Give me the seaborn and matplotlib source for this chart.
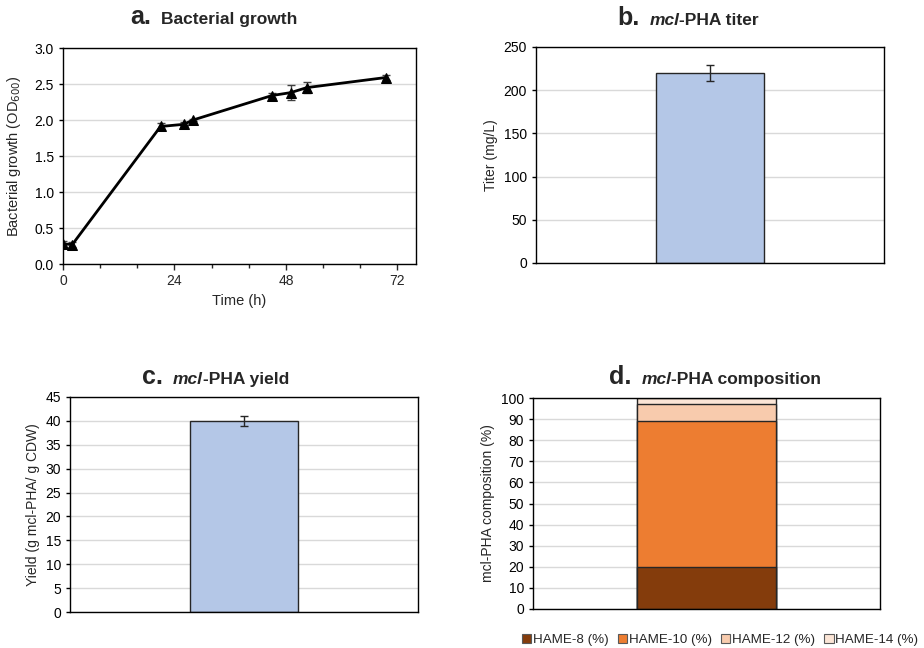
import numpy as np
import pandas as pd
import matplotlib
matplotlib.use('Agg')
import matplotlib.pyplot as plt
import seaborn as sns
from matplotlib.patches import Patch
from matplotlib.ticker import MultipleLocator, FormatStrFormatter

# panel a: growth curve
time_h = [0, 2, 21, 26, 28, 45, 49, 52.5, 69.5]
od600 = [0.28, 0.27, 1.91, 1.94, 2.00, 2.34, 2.38, 2.45, 2.59]
od600_err = [0.04, 0.03, 0.05, 0.03, 0.02, 0.03, 0.10, 0.08, 0.03]

# panel b / c: single bars
titer = [220]
titer_err = [9.5]
yield_val = [40]
yield_err = [1.0]

# panel d: composition (%)
hame_labels = ['HAME-8 (%)', 'HAME-10 (%)', 'HAME-12 (%)', 'HAME-14 (%)']
hame_values = [20, 69, 8, 3]
hame_colors = ['#843C0C', '#ED7D31', '#F8CBAD', '#FBE5D6']

sns.set_style('ticks')
plt.rcParams['font.family'] = ['Liberation Sans', 'DejaVu Sans']
plt.rcParams['font.size'] = 10
plt.rcParams['axes.linewidth'] = 1.0
plt.rcParams['axes.edgecolor'] = 'black'

W, H = 924, 648
fig = plt.figure(figsize=(W / 100, H / 100), dpi=100)

def px_axes(left, top, right, bottom):
    return fig.add_axes([left / W, 1 - bottom / H, (right - left) / W, (bottom - top) / H])

def style_axes(ax):
    ax.yaxis.grid(True, color='#D9D9D9', linewidth=1)
    ax.set_axisbelow(True)
    for s in ax.spines.values():
        s.set_color('black')
        s.set_linewidth(1.0)
    ax.tick_params(axis='y', length=3, width=1, direction='out', labelsize=10, colors='black')

def bar_panel(ax, value, err, width):
    sns.barplot(x=['mcl-PHA'], y=value, ax=ax, color='#B4C7E7', width=width,
                edgecolor='#262626', linewidth=1, errorbar=None, saturation=1)
    ax.errorbar(0, value[0], yerr=err[0], fmt='none', ecolor='#262626', elinewidth=1,
                capsize=3, capthick=1)
    ax.set_xlim(-0.5, 0.5)
    ax.set_xticks([])
    ax.set_xlabel('')

def panel_title(x, y, letter, parts):
    fig.canvas.draw()
    renderer = fig.canvas.get_renderer()
    t = fig.text(x / W, 1 - y / H, letter, fontsize=18, fontweight='bold', va='baseline')
    cur = x + t.get_window_extent(renderer).width + 10
    for s, style in parts:
        t2 = fig.text(cur / W, 1 - y / H, s, fontsize=12.5, fontweight='bold', style=style, va='baseline')
        cur += t2.get_window_extent(renderer).width

# a. growth
ax_a = px_axes(63, 48, 416, 264)
style_axes(ax_a)
df_a = pd.DataFrame({'time': time_h, 'od': od600})
ax_a.errorbar(time_h, od600, yerr=od600_err, fmt='none', ecolor='#404040', elinewidth=1,
              capsize=3, capthick=1, zorder=2)
sns.lineplot(data=df_a, x='time', y='od', ax=ax_a, color='black', linewidth=2,
             marker='^', markersize=6.5, markeredgecolor='black', zorder=3)
ax_a.set_xlim(0, 76)
ax_a.set_ylim(0, 3.0)
ax_a.xaxis.set_major_locator(MultipleLocator(24))
ax_a.xaxis.set_minor_locator(MultipleLocator(8))
ax_a.yaxis.set_major_locator(MultipleLocator(0.5))
ax_a.yaxis.set_major_formatter(FormatStrFormatter('%.1f'))
ax_a.tick_params(axis='x', which='major', length=4, width=1, labelsize=10)
ax_a.tick_params(axis='x', which='minor', length=3, width=1)
ax_a.set_xlabel('Time (h)', fontsize=10.5)
ax_a.set_ylabel('Bacterial growth (OD$_{600}$)', fontsize=10.5, labelpad=8)

# b. titer
ax_b = px_axes(536, 47, 884, 263)
style_axes(ax_b)
bar_panel(ax_b, titer, titer_err, 0.31)
ax_b.set_ylim(0, 250)
ax_b.yaxis.set_major_locator(MultipleLocator(50))
ax_b.set_ylabel('Titer (mg/L)', fontsize=10)

# c. yield
ax_c = px_axes(70, 397, 418, 612)
style_axes(ax_c)
bar_panel(ax_c, yield_val, yield_err, 0.31)
ax_c.set_ylim(0, 45)
ax_c.yaxis.set_major_locator(MultipleLocator(5))
ax_c.set_ylabel('Yield (g mcl-PHA/ g CDW)', fontsize=10)

# d. composition (stacked via cumulative overlay)
ax_d = px_axes(533, 398, 880, 609)
style_axes(ax_d)
cum = np.cumsum(hame_values)
for i in range(len(hame_values) - 1, -1, -1):
    sns.barplot(x=['mcl-PHA'], y=[cum[i]], ax=ax_d, color=hame_colors[i], width=0.4,
                edgecolor='#262626', linewidth=1, errorbar=None, saturation=1)
ax_d.set_xlim(-0.5, 0.5)
ax_d.set_xticks([])
ax_d.set_xlabel('')
ax_d.set_ylim(0, 100)
ax_d.yaxis.set_major_locator(MultipleLocator(10))
ax_d.set_ylabel('mcl-PHA composition (%)', fontsize=10)
handles = [Patch(facecolor=c, edgecolor='#595959', linewidth=0.8) for c in hame_colors]
fig.legend(handles, hame_labels, loc='center', bbox_to_anchor=(720 / W, 1 - 640 / H),
           ncol=4, frameon=False, fontsize=9.6, handlelength=0.7, handleheight=0.7,
           handletextpad=0.12, columnspacing=0.7, borderaxespad=0, borderpad=0)

panel_title(130, 24, 'a.', [('Bacterial growth', 'normal')])
panel_title(617, 25, 'b.', [('mcl', 'italic'), ('-PHA titer', 'normal')])
panel_title(142, 384, 'c.', [('mcl', 'italic'), ('-PHA yield', 'normal')])
panel_title(609, 384, 'd.', [('mcl', 'italic'), ('-PHA composition', 'normal')])

fig.savefig('out.png', dpi=100)
